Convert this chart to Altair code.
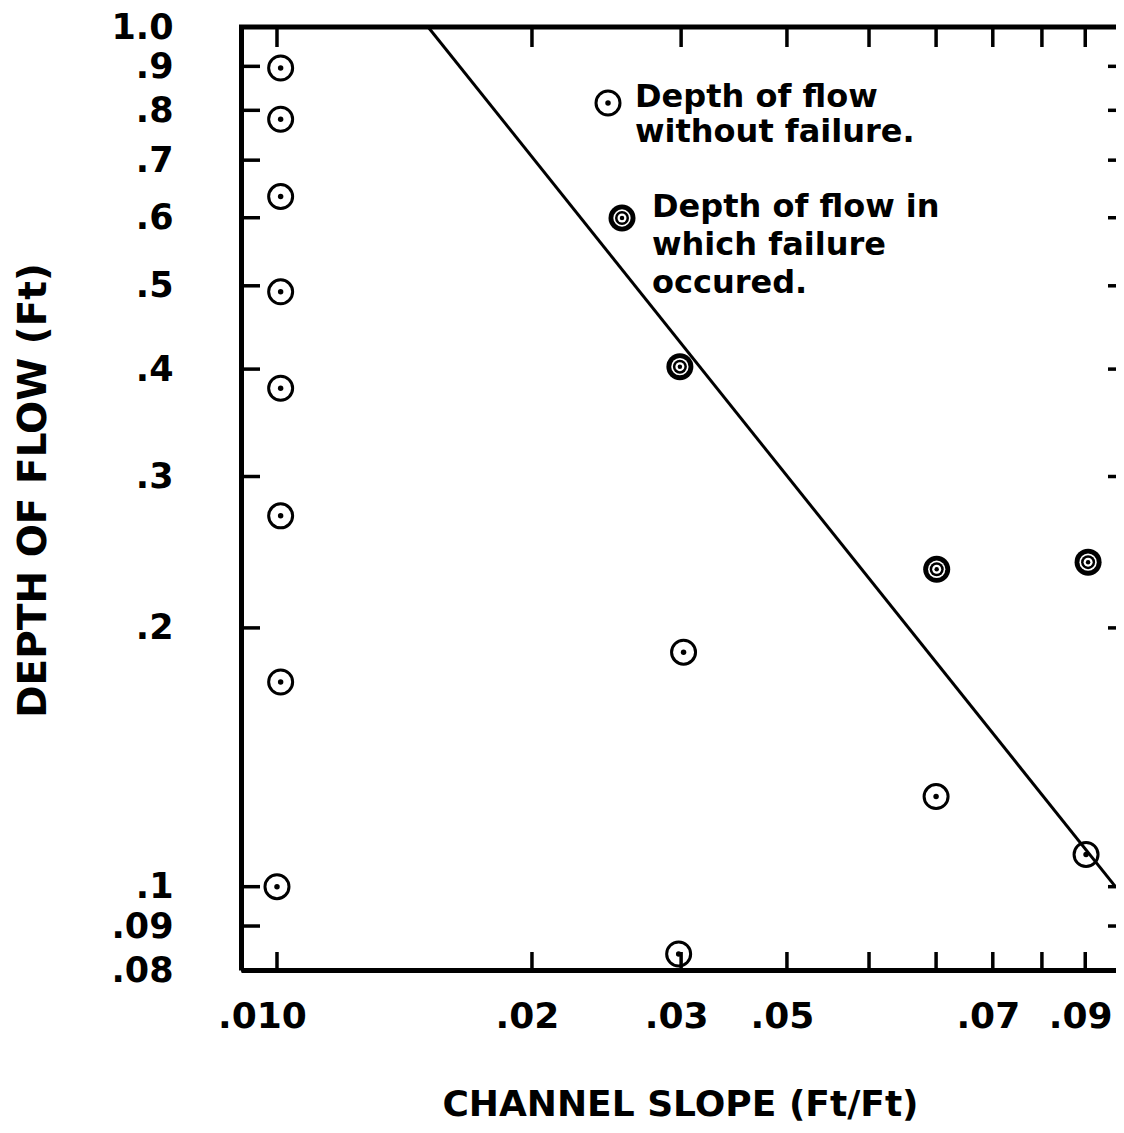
import altair as alt
import pandas as pd

# ---------------- data ----------------
OPEN_X = [0.0101, 0.0101, 0.0101, 0.0101, 0.0101, 0.0101, 0.0101, 0.0100,
          0.0302, 0.0298, 0.0600, 0.0902]
OPEN_Y = [0.896, 0.781, 0.635, 0.492, 0.380, 0.270, 0.173, 0.100,
          0.1874, 0.0835, 0.1273, 0.109]

FAIL_X = [0.0299, 0.0601, 0.0907]
FAIL_Y = [0.4026, 0.234, 0.2385]

LINE_X = [0.01508, 0.0978]
LINE_Y = [1.0, 0.0999]

XTICKS = [0.01, 0.02, 0.03, 0.04, 0.05, 0.06, 0.07, 0.08, 0.09]
XTICK_LABELS = [".010", ".02", ".03", ".05", "", "", ".07", "", ".09"]

YTICKS = [0.08, 0.09, 0.1, 0.2, 0.3, 0.4, 0.5, 0.6, 0.7, 0.8, 0.9, 1.0]
YTICK_LABELS = [".08", ".09", ".1", ".2", ".3", ".4", ".5", ".6", ".7", ".8", ".9", "1.0"]

X_TITLE = "CHANNEL SLOPE (Ft/Ft)"
Y_TITLE = "DEPTH OF FLOW (Ft)"
LEGEND_OPEN = ["Depth of flow", "without failure."]
LEGEND_FAIL = ["Depth of flow in", "which failure", "occured."]

X_DOMAIN = [0.009068, 0.09785]
Y_DOMAIN = [0.08, 1.0]

# ---------------- layout ----------------
W, H = 875, 943
FONT = "DejaVu Sans"

open_df = pd.DataFrame({"slope": OPEN_X, "depth": OPEN_Y})
fail_df = pd.DataFrame({"slope": FAIL_X, "depth": FAIL_Y})
line_df = pd.DataFrame({"slope": LINE_X, "depth": LINE_Y})
xt_df = pd.DataFrame({"slope": XTICKS})
yt_df = pd.DataFrame({"depth": YTICKS})
one = pd.DataFrame({"k": [0]})

xscale = alt.Scale(type="log", domain=X_DOMAIN, nice=False)
yscale = alt.Scale(type="log", domain=Y_DOMAIN, nice=False)

x_lbl = "[" + ",".join(["''"] + ["'%s'" % s for s in XTICK_LABELS]) + "][round(datum.value*100)]"
y_lbl = ""
for v, s in zip(YTICKS, YTICK_LABELS):
    y_lbl += "round(datum.value*100)==%d ? '%s' : " % (round(v * 100), s)
y_lbl += "''"

x_axis = alt.Axis(
    values=XTICKS, labelExpr=x_lbl, ticks=False, grid=False,
    domain=True, domainColor="black", domainWidth=5,
    labelFont=FONT, labelFontWeight="bold", labelFontSize=36, labelColor="black",
    labelPadding=29,
    labelOffset={"condition": {"test": "datum.value < 0.015", "value": -15}, "value": -5},
    labelOverlap=False, labelFlush=False, labelBound=False,
    title=X_TITLE, titleFont=FONT, titleFontWeight="bold", titleFontSize=36,
    titleColor="black", titleX=(680 - 241), titleY=145, titleAlign="center",
    titleBaseline="alphabetic",
)
y_axis = alt.Axis(
    values=YTICKS, labelExpr=y_lbl, ticks=False, grid=False,
    domain=True, domainColor="black", domainWidth=5,
    labelFont=FONT, labelFontWeight="bold", labelFontSize=35, labelColor="black",
    labelPadding=68, labelOverlap=False, labelFlush=False, labelBound=False,
    labelBaseline="middle",
    title=Y_TITLE, titleFont=FONT, titleFontWeight="bold", titleFontSize=39,
    titleColor="black", titleAngle=270, titleX=-196, titleY=463,
    titleAlign="center", titleBaseline="alphabetic",
)

X = alt.X("slope:Q", scale=xscale, axis=x_axis)
Y = alt.Y("depth:Q", scale=yscale, axis=y_axis)

layers = []

# fitted line
layers.append(
    alt.Chart(line_df).mark_line(color="black", strokeWidth=3, clip=True).encode(x=X, y=Y)
)

# frame top line
layers.append(
    alt.Chart(one).mark_rule(color="black", strokeWidth=5).encode(
        x=alt.value(-2), x2=alt.value(W), y=alt.value(0)
    )
)

# inward tick marks from the tick arrays
layers.append(alt.Chart(yt_df).mark_rule(color="black", strokeWidth=3.5).encode(
    y=Y, x=alt.value(0), x2=alt.value(19)))
layers.append(alt.Chart(yt_df).mark_rule(color="black", strokeWidth=3.5).encode(
    y=Y, x=alt.value(W - 8), x2=alt.value(W)))
layers.append(alt.Chart(xt_df).mark_rule(color="black", strokeWidth=3.5).encode(
    x=X, y=alt.value(0), y2=alt.value(20)))
layers.append(alt.Chart(xt_df).mark_rule(color="black", strokeWidth=3.5).encode(
    x=X, y=alt.value(H - 18), y2=alt.value(H)))


def open_symbol(data, x, y):
    return [
        alt.Chart(data).mark_point(shape="circle", filled=False, color="black",
                                   strokeWidth=3, size=576, opacity=1).encode(x=x, y=y),
        alt.Chart(data).mark_point(shape="circle", filled=True, color="black",
                                   size=30, opacity=1, strokeWidth=0).encode(x=x, y=y),
    ]


def fail_symbol(data, x, y):
    out = []
    for size, col in [(729, "black"), (300, "white"), (196, "black"), (81, "white"), (20, "black")]:
        out.append(alt.Chart(data).mark_point(shape="circle", filled=True, color=col,
                                              size=size, opacity=1, strokeWidth=0).encode(x=x, y=y))
    return out


layers += open_symbol(open_df, X, Y)
layers += fail_symbol(fail_df, X, Y)

# legend (annotation)
layers += open_symbol(one, alt.value(367), alt.value(76))
layers += fail_symbol(one, alt.value(381), alt.value(191))
layers.append(alt.Chart(one).mark_text(
    font=FONT, fontWeight="bold", fontSize=32, align="left", baseline="alphabetic",
    lineHeight=35, color="black").encode(
    x=alt.value(394), y=alt.value(80), text=alt.value(LEGEND_OPEN)))
layers.append(alt.Chart(one).mark_text(
    font=FONT, fontWeight="bold", fontSize=32, align="left", baseline="alphabetic",
    lineHeight=38, color="black").encode(
    x=alt.value(411), y=alt.value(190), text=alt.value(LEGEND_FAIL)))

chart = alt.layer(*layers).properties(
    width=W, height=H,
    autosize=alt.AutoSizeParams(type="none"),
    padding={"left": 233, "top": 19, "right": 0, "bottom": 153},
    background="white",
).configure_view(stroke=None)

chart.save("out.html", embed_options={"renderer": "svg", "actions": False})
